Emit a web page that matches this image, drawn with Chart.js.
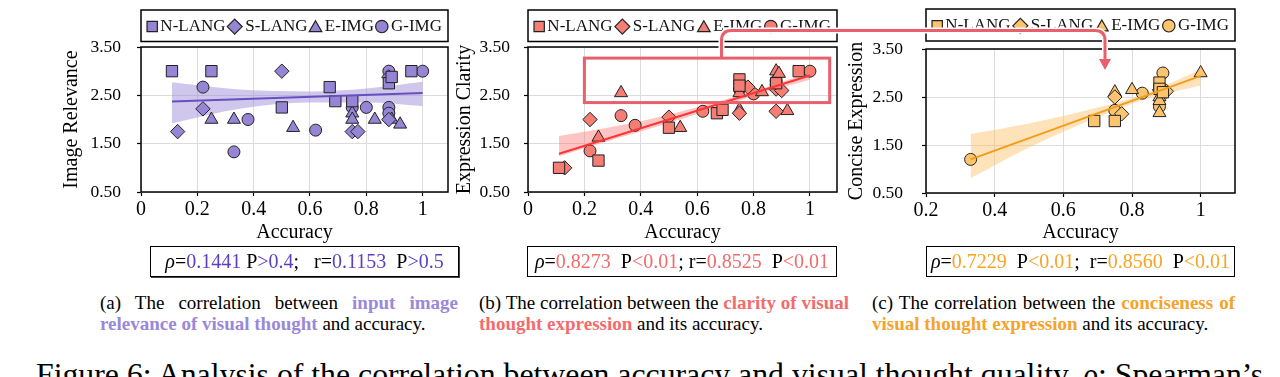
<!DOCTYPE html>
<html>
<head>
<meta charset="utf-8">
<script src="https://cdn.jsdelivr.net/npm/chart.js@4.4.1/dist/chart.umd.min.js"></script>
<style>
  body { margin: 0; background: #fff; }
  #page { position: relative; width: 1280px; height: 377px; overflow: hidden; font-family: "Liberation Serif", "DejaVu Serif", serif; color: #000; }
  canvas { position: absolute; top: 0; }
  .stats { position: absolute; top: 246px; height: 31px; box-sizing: border-box; border: 1.5px solid #000; display: flex; align-items: center; justify-content: center; font-size: 20px; white-space: pre; }
  .cap { position: absolute; top: 292px; font-size: 19px; line-height: 21px; }
  .cap .l1 { text-align: justify; text-align-last: justify; }
  .cap b { font-weight: bold; }
  #figcap { position: absolute; left: 36px; top: 359px; font-size: 27px; line-height: 1; white-space: nowrap; }
  #link { position: absolute; left: 0; top: 0; pointer-events: none; }
</style>
</head>
<body>
<div id="page">
  <canvas id="relevance-chart" width="420" height="250" style="left:40px"></canvas>
  <canvas id="clarity-chart" width="410" height="250" style="left:440px"></canvas>
  <canvas id="concise-chart" width="420" height="250" style="left:835px"></canvas>

  <div class="stats" style="left:150px; width:309px; box-shadow: 1px 1px 0 #444;"><i>ρ</i>=<span style="color:#5b3fc1">0.1441</span> P<span style="color:#5b3fc1">&gt;0.4</span>;   r=<span style="color:#5b3fc1">0.1153</span>  P<span style="color:#5b3fc1">&gt;0.5</span></div>
  <div class="stats" style="left:527px; width:310px;"><i>ρ</i>=<span style="color:#f26b6b">0.8273</span>  P<span style="color:#f26b6b">&lt;0.01</span>; r=<span style="color:#f26b6b">0.8525</span>  P<span style="color:#f26b6b">&lt;0.01</span></div>
  <div class="stats" style="left:926px; width:309px;"><i>ρ</i>=<span style="color:#f5a425">0.7229</span>  P<span style="color:#f5a425">&lt;0.01</span>;  r=<span style="color:#f5a425">0.8560</span>  P<span style="color:#f5a425">&lt;0.01</span></div>

  <div class="cap" style="left:100px; width:358px;">
    <div class="l1">(a) The correlation between <b style="color:#9a88d8">input image</b></div>
    <div><b style="color:#9a88d8">relevance of visual thought</b> and accuracy.</div>
  </div>
  <div class="cap" style="left:479px; width:370px;">
    <div class="l1">(b) The correlation between the <b style="color:#f36b6b">clarity of visual</b></div>
    <div><b style="color:#f36b6b">thought expression</b> and its accuracy.</div>
  </div>
  <div class="cap" style="left:872px; width:363px;">
    <div class="l1">(c) The correlation between the <b style="color:#f5a32c">conciseness of</b></div>
    <div><b style="color:#f5a32c">visual thought expression</b> and its accuracy.</div>
  </div>

  <div id="figcap">Figure 6: Analysis of the correlation between accuracy and visual thought quality. <i>ρ</i>: Spearman’s</div>

  <svg id="link" width="1280" height="377">
    <path d="M721.5 55 V40.5 Q721.5 30.5 731.5 30.5 H1095 Q1105 30.5 1105 40.5 V60" fill="none" stroke="#fff" stroke-width="6"/>
    <path d="M721.5 58.5 V40.5 Q721.5 30.5 731.5 30.5 H1095 Q1105 30.5 1105 40.5 V60" fill="none" stroke="#e8606c" stroke-width="3"/>
    <polygon points="1099,59 1111,59 1105,70" fill="#e8606c"/>
  </svg>
</div>

<script>
const seriesNames = ['N-LANG', 'S-LANG', 'E-IMG', 'G-IMG'];
const markerStyles = ['rect', 'rectRot', 'triangle', 'circle'];
const markerRadii = [8, 7.2, 7.5, 6];

// (a) image relevance vs accuracy
const relevanceNLang = [[0.11, 3.0], [0.25, 3.0], [0.5, 2.25], [0.67, 2.67], [0.69, 2.38], [0.75, 2.38], [0.88, 2.75], [0.89, 2.88], [0.96, 3.0]];
const relevanceSLang = [[0.13, 1.75], [0.22, 2.22], [0.5, 3.0], [0.75, 1.75], [0.77, 1.75], [0.88, 2.88], [0.88, 2.0]];
const relevanceEImg = [[0.25, 2.0], [0.33, 2.0], [0.54, 1.83], [0.75, 2.13], [0.75, 2.0], [0.83, 2.0], [0.89, 2.0], [0.92, 1.9]];
const relevanceGImg = [[0.22, 2.67], [0.33, 1.33], [0.38, 2.0], [0.62, 1.78], [0.75, 2.25], [0.8, 2.25], [0.88, 3.0], [0.88, 2.25], [0.88, 2.13], [1.0, 3.0]];
const relevanceFit = [[0.11, 2.37], [1.0, 2.55]];
const relevanceBandX = [0.11, 0.35, 0.6, 0.8, 1.0];
const relevanceBandLow = [1.92, 2.22, 2.35, 2.35, 2.28];
const relevanceBandHigh = [2.77, 2.62, 2.58, 2.64, 2.78];

// (b) expression clarity vs accuracy
const clarityNLang = [[0.11, 1.0], [0.25, 1.15], [0.5, 1.83], [0.67, 2.13], [0.69, 2.2], [0.75, 2.83], [0.75, 2.7], [0.88, 2.75], [0.96, 3.0]];
const claritySLang = [[0.13, 1.0], [0.22, 2.0], [0.5, 2.05], [0.75, 2.13], [0.78, 2.67], [0.88, 2.63], [0.9, 2.6], [0.88, 2.17]];
const clarityEImg = [[0.25, 1.63], [0.33, 2.55], [0.54, 1.83], [0.75, 2.2], [0.75, 2.55], [0.83, 2.57], [0.88, 3.0], [0.89, 2.95], [0.92, 2.18]];
const clarityGImg = [[0.22, 1.35], [0.33, 2.08], [0.38, 1.88], [0.62, 2.17], [0.75, 2.63], [0.8, 2.53], [0.88, 2.8], [0.88, 2.72], [1.0, 3.0]];
const clarityFit = [[0.11, 1.29], [1.0, 2.91]];
const clarityBandX = [0.11, 0.3, 0.5, 0.7, 0.85, 1.0];
const clarityBandLow = [1.24, 1.58, 1.93, 2.3, 2.58, 2.82];
const clarityBandHigh = [1.66, 1.85, 2.1, 2.42, 2.68, 2.97];

// (c) concise expression vs accuracy
const conciseNLang = [[0.69, 2.0], [0.75, 2.0], [0.88, 2.8], [0.88, 2.67], [0.89, 2.6]];
const conciseSLang = [[0.75, 2.5], [0.77, 2.15], [0.88, 2.65], [0.9, 2.62]];
const conciseEImg = [[0.75, 2.6], [0.8, 2.65], [0.88, 2.5], [0.88, 2.42], [0.88, 2.17], [1.0, 3.0]];
const conciseGImg = [[0.33, 1.2], [0.75, 2.22], [0.83, 2.58], [0.89, 3.0], [0.88, 2.3]];
const conciseFit = [[0.33, 1.2], [1.0, 2.94]];
const conciseBandX = [0.33, 0.5, 0.7, 0.85, 1.0];
const conciseBandLow = [0.81, 1.45, 2.08, 2.48, 2.74];
const conciseBandHigh = [1.73, 1.95, 2.28, 2.6, 3.08];

const FONT = '"Liberation Serif", "DejaVu Serif", serif';
Chart.defaults.font.family = FONT;
Chart.defaults.color = '#000';

const toPoints = (pairs) => pairs.map(([x, y]) => ({ x, y }));
const formatX = (v) => {
  if (Math.abs(v) < 1e-9) return '0';
  if (Math.abs(v - 1) < 1e-9) return '1';
  return v.toFixed(1);
};

// black box round the plot area
const framePlugin = {
  id: 'frame',
  afterDraw(chart) {
    const { ctx, chartArea: a } = chart;
    ctx.save();
    ctx.strokeStyle = '#000';
    ctx.lineWidth = 1.5;
    ctx.strokeRect(a.left, a.top, a.right - a.left, a.bottom - a.top);
    ctx.restore();
  },
};

// boxed legend above the plot, same width as the plot area
function boxLegend(fill, top, bottom) {
  return {
    id: 'boxLegend',
    afterDraw(chart) {
      const { ctx, chartArea } = chart;
      const left = chartArea.left;
      const right = chartArea.right;
      const cy = (top + bottom) / 2 + 0.8;
      const legendRadii = [7.3, 7.5, 7.3, 6.2];
      const widthFactor = [1.42, 2, 1.74, 2];
      ctx.save();
      ctx.font = `17px ${FONT}`;
      const textW = seriesNames.map((t) => ctx.measureText(t).width);
      const markW = legendRadii.map((r, i) => r * widthFactor[i]);
      const inner = 3;
      const pad = 6;
      const content = textW.reduce((a, b) => a + b, 0) + markW.reduce((a, b) => a + b, 0) + inner * 4;
      const gap = (right - left - 2 * pad - content) / 3;
      let x = left + pad;
      seriesNames.forEach((name, i) => {
        ctx.fillStyle = fill;
        ctx.strokeStyle = '#222';
        ctx.lineWidth = 1.2;
        Chart.helpers.drawPoint(ctx, { pointStyle: markerStyles[i], radius: legendRadii[i], rotation: 0, borderWidth: 1.2 }, x + markW[i] / 2, cy + (markerStyles[i] === 'triangle' ? 1.5 : 0));
        x += markW[i] + inner;
        ctx.fillStyle = '#111';
        ctx.textAlign = 'left';
        ctx.textBaseline = 'middle';
        ctx.fillText(name, x, cy);
        x += textW[i] + gap;
      });
      ctx.strokeStyle = '#000';
      ctx.lineWidth = 1.5;
      ctx.strokeRect(left, top, right - left, bottom - top);
      ctx.restore();
    },
  };
}

// highlighted region in the clarity plot
const highlight = { x0: 0.2, x1: 1.07, y0: 2.35, y1: 3.27 };
const highlightPlugin = {
  id: 'highlight',
  afterDatasetsDraw(chart) {
    const { ctx, scales } = chart;
    const l = scales.x.getPixelForValue(highlight.x0);
    const r = scales.x.getPixelForValue(highlight.x1);
    const t = scales.y.getPixelForValue(highlight.y1);
    const b = scales.y.getPixelForValue(highlight.y0);
    ctx.save();
    ctx.strokeStyle = '#e8606c';
    ctx.lineWidth = 3;
    ctx.strokeRect(l, t, r - l, b - t);
    ctx.restore();
  },
};

function buildChart(canvasId, spec) {
  const gridOpts = { color: '#dcdcdc', lineWidth: 1, tickLength: 4, tickColor: '#000', tickWidth: 1.2 };
  const markers = spec.series.map((pairs, i) => ({
    label: seriesNames[i],
    data: toPoints(pairs),
    pointStyle: markerStyles[i],
    pointRadius: markerRadii[i],
    pointBackgroundColor: spec.colors.marker,
    pointBorderColor: '#222',
    pointBorderWidth: 1,
    order: 1,
  }));
  const datasets = [
    {
      type: 'line',
      data: spec.bandX.map((x, i) => ({ x, y: spec.bandLow[i] })),
      borderWidth: 0, pointRadius: 0, fill: false, cubicInterpolationMode: 'monotone', order: 3,
    },
    {
      type: 'line',
      data: spec.bandX.map((x, i) => ({ x, y: spec.bandHigh[i] })),
      borderWidth: 0, pointRadius: 0, fill: '-1', backgroundColor: spec.colors.band, cubicInterpolationMode: 'monotone', order: 3,
    },
    ...markers,
    {
      type: 'line',
      data: toPoints(spec.fit),
      borderColor: spec.colors.line, borderWidth: 2, pointRadius: 0, fill: false, order: 0,
    },
  ];

  return new Chart(document.getElementById(canvasId), {
    type: 'scatter',
    data: { datasets },
    plugins: [framePlugin, boxLegend(spec.colors.marker, spec.legendTop, spec.legendBottom), ...(spec.extraPlugins || [])],
    options: {
      responsive: false,
      animation: false,
      layout: { padding: { left: 0, right: spec.padRight, top: spec.top, bottom: 0 } },
      plugins: { legend: { display: false }, tooltip: { enabled: false } },
      scales: {
        x: {
          type: 'linear',
          min: spec.xMin,
          max: spec.xMax,
          ticks: { stepSize: 0.2, includeBounds: false, padding: 2, color: '#000', font: { size: 20 }, maxRotation: 0, autoSkip: false, callback: formatX },
          grid: gridOpts,
          border: { display: false },
          title: { display: true, text: 'Accuracy', color: '#000', font: { size: 20 }, padding: { top: 0, bottom: 5 } },
          afterFit: (s) => { s.height = spec.xHeight; },
        },
        y: {
          type: 'linear',
          min: 0.5,
          max: 3.5,
          ticks: { stepSize: 1, padding: spec.yTickPad, color: '#000', font: { size: 17.5 }, callback: (v) => v.toFixed(2) },
          grid: gridOpts,
          border: { display: false },
          title: { display: true, text: spec.yTitle, color: '#000', font: { size: 20 }, padding: { top: spec.yTitlePad, bottom: 0 } },
          afterFit: (s) => { s.width = spec.yWidth; },
        },
      },
    },
  });
}

buildChart('relevance-chart', {
  series: [relevanceNLang, relevanceSLang, relevanceEImg, relevanceGImg],
  fit: relevanceFit, bandX: relevanceBandX, bandLow: relevanceBandLow, bandHigh: relevanceBandHigh,
  colors: { marker: '#9585d4', line: '#6650c0', band: 'rgba(150, 130, 215, 0.45)' },
  yTitle: 'Image Relevance',
  xMin: 0, xMax: 1.09,
  yWidth: 101, padRight: 12, top: 47, xHeight: 58, yTickPad: 16, yTitlePad: 19.7,
  legendTop: 10, legendBottom: 41.5,
});

buildChart('clarity-chart', {
  series: [clarityNLang, claritySLang, clarityEImg, clarityGImg],
  fit: clarityFit, bandX: clarityBandX, bandLow: clarityBandLow, bandHigh: clarityBandHigh,
  colors: { marker: '#f47d74', line: '#ff3434', band: 'rgba(255, 110, 110, 0.4)' },
  yTitle: 'Expression Clarity',
  xMin: 0, xMax: 1.096,
  yWidth: 88, padRight: 13, top: 47, xHeight: 58, yTickPad: 14, yTitlePad: 13,
  legendTop: 10, legendBottom: 41.5,
  extraPlugins: [highlightPlugin],
});

buildChart('concise-chart', {
  series: [conciseNLang, conciseSLang, conciseEImg, conciseGImg],
  fit: conciseFit, bandX: conciseBandX, bandLow: conciseBandLow, bandHigh: conciseBandHigh,
  colors: { marker: '#fcc46e', line: '#f39c1a', band: 'rgba(252, 190, 100, 0.45)' },
  yTitle: 'Concise Expression',
  xMin: 0.2, xMax: 1.1,
  yWidth: 91, padRight: 20, top: 49, xHeight: 57, yTickPad: 19, yTitlePad: 10,
  legendTop: 9, legendBottom: 41,
});

// stretch the figure caption to the width it has in the paper
const figcap = document.getElementById('figcap');
figcap.style.fontSize = (27 * 1228 / figcap.scrollWidth) + 'px';
</script>
</body>
</html>
